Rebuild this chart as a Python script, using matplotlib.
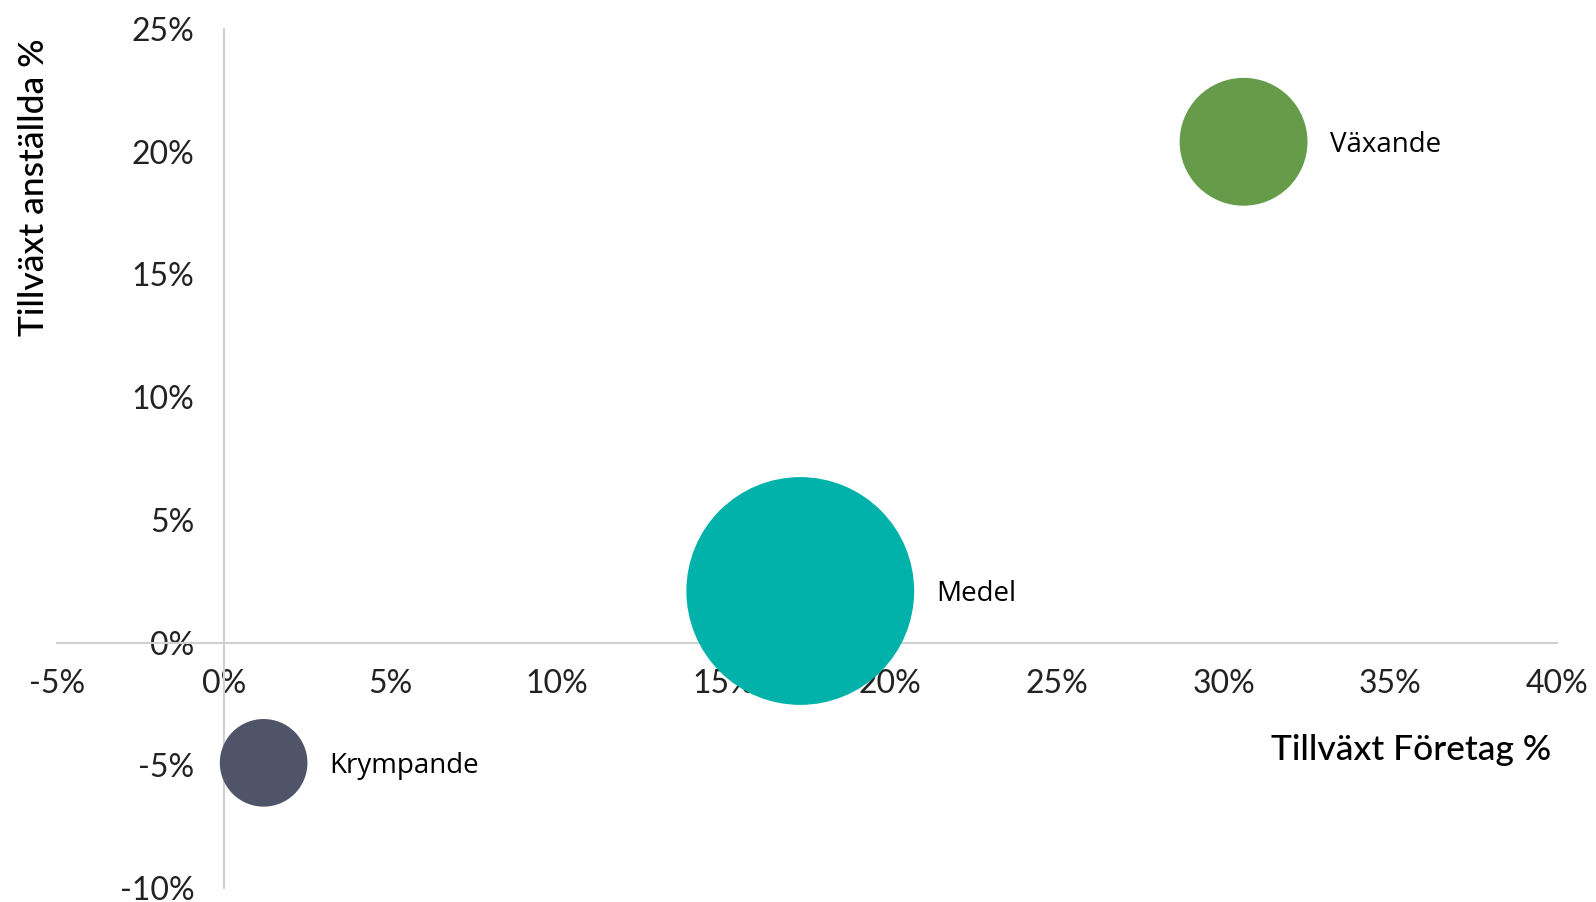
import matplotlib.pyplot as plt
from matplotlib.ticker import PercentFormatter

plt.rcParams["axes.unicode_minus"] = False

# data
grupper = ["Krympande", "Medel", "Växande"]
tillvaxt_foretag = [1.2, 17.3, 30.6]
tillvaxt_anstallda = [-4.9, 2.1, 20.4]
storlek = [14.8, 100, 31.5]
farger = ["#4f5468", "#00b2a9", "#659b49"]

x_ticks = [-5, 0, 5, 10, 15, 20, 25, 30, 35, 40]
y_ticks = [-10, -5, 0, 5, 10, 15, 20, 25]

fig = plt.figure(figsize=(15.96, 9.02), dpi=100)
ax = fig.add_axes([0.0357, 0.0155, 0.9398, 0.9525])

skala = 269
s = [v * skala for v in storlek]
ax.scatter(tillvaxt_foretag, tillvaxt_anstallda, s=s, c=farger, linewidths=0, zorder=3)

for namn, x, y, v in zip(grupper, tillvaxt_foretag, tillvaxt_anstallda, s):
    r = v ** 0.5 / 2
    ax.annotate(namn, (x, y), xytext=(r + 16, -2), textcoords="offset points",
                va="center", ha="left", fontsize=20, family="Open Sans", color="black")

ax.set_xlim(-5, 40)
ax.set_ylim(-10, 25)
ax.set_xticks(x_ticks)
ax.set_yticks(y_ticks)
ax.xaxis.set_major_formatter(PercentFormatter(decimals=0))
ax.yaxis.set_major_formatter(PercentFormatter(decimals=0))

ax.spines["left"].set_position(("data", 0))
ax.spines["bottom"].set_position(("data", 0))
ax.spines["right"].set_visible(False)
ax.spines["top"].set_visible(False)
for sp in ["left", "bottom"]:
    ax.spines[sp].set_color("#d0d0d0")
    ax.spines[sp].set_linewidth(1.5)

ax.tick_params(axis="both", length=0, labelsize=23, labelcolor="#222222")
ax.tick_params(axis="y", pad=21)
ax.tick_params(axis="x", pad=19)
for lab in ax.get_xticklabels() + ax.get_yticklabels():
    lab.set_family("Lato")

fig.text(0.021, 0.958, "Tillväxt anställda %", rotation=90, va="top", ha="center",
         fontsize=25.5, family="Lato", weight="medium")
fig.text(0.972, 0.168, "Tillväxt Företag %", ha="right", va="center",
         fontsize=25.5, family="Lato", weight="medium")

fig.savefig("out.png", dpi=100)
